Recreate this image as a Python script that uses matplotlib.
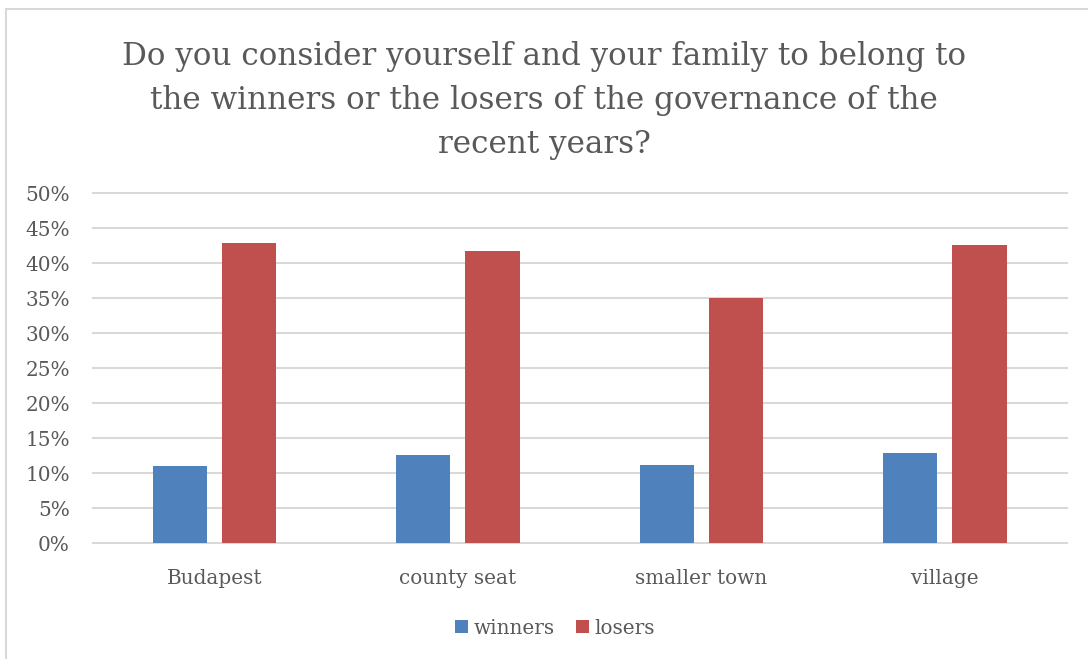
import numpy as np
import matplotlib.pyplot as plt
from matplotlib.patches import Rectangle
from matplotlib.ticker import PercentFormatter

# data
categories = ['Budapest', 'county seat', 'smaller town', 'village']
winners = [11.1, 12.6, 11.2, 12.9]
losers = [42.9, 41.7, 35.1, 42.6]

title_lines = ['Do you consider yourself and your family to belong to',
               'the winners or the losers of the governance of the',
               'recent years?']

text_color = '#595959'
blue = '#4F81BD'
red = '#C0504D'

plt.rcParams['font.family'] = ['DejaVu Serif']

fig = plt.figure(figsize=(10.88, 6.59), dpi=100)
ax = fig.add_axes([0.0852, 0.1756, 0.8952, 0.5311])

x = np.arange(len(categories))
w = 0.2235
off = 0.1425
ax.bar(x - off, winners, w, color=blue, label='winners', zorder=3)
ax.bar(x + off, losers, w, color=red, label='losers', zorder=3)

ax.set_xlim(-0.5, len(categories) - 0.5)
ax.set_ylim(0, 50)
ax.set_yticks(np.arange(0, 51, 5))
ax.yaxis.set_major_formatter(PercentFormatter(decimals=0))
ax.set_xticks(x)
ax.set_xticklabels(categories)
ax.grid(axis='y', color='#D9D9D9', linewidth=1.5, zorder=0)
for gl in ax.get_ygridlines():
    gl.set_clip_on(False)
for s in ax.spines.values():
    s.set_visible(False)
ax.tick_params(axis='both', length=0, labelsize=14.4, colors=text_color)
ax.tick_params(axis='y', pad=16.5)
ax.tick_params(axis='x', pad=18.5)

for i, line in enumerate(title_lines):
    fig.text(0.5, 1 - (65 + 44 * i) / 659, line, ha='center', va='baseline',
             fontsize=22.3, color=text_color)

fig.legend(loc='center', bbox_to_anchor=(555 / 1088, 1 - 628 / 659), ncol=2,
           frameon=False, fontsize=14.4, labelcolor=text_color,
           handlelength=0.65, handleheight=0.65, handletextpad=0.3,
           columnspacing=1.05)

# light chart-area border
fig.patches.append(Rectangle((5.5 / 1088, -0.1), 1.2, 1 - 8.5 / 659 + 0.1,
                             transform=fig.transFigure, fill=False,
                             edgecolor='#D9D9D9', linewidth=1.5))

fig.savefig('out.png', dpi=100)
